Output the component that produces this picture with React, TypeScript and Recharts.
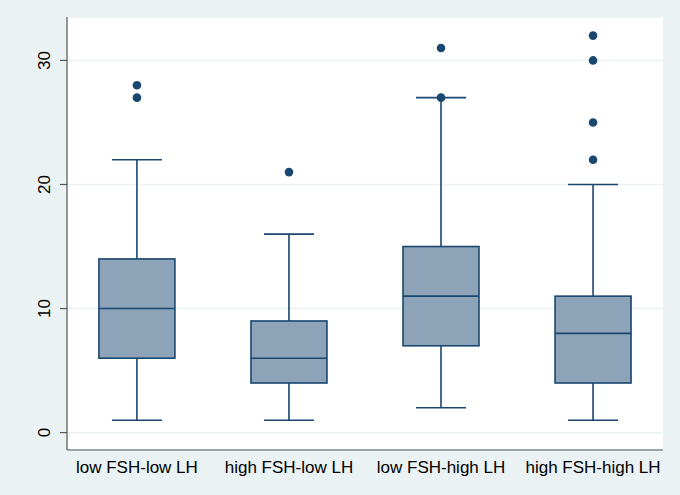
import React from "react";
import { ComposedChart, Bar, Scatter, XAxis, YAxis, CartesianGrid } from "recharts";

const categories = ["low FSH-low LH", "high FSH-low LH", "low FSH-high LH", "high FSH-high LH"];
const mins = [1, 1, 2, 1];
const q1s = [6, 4, 7, 4];
const medians = [10, 6, 11, 8];
const q3s = [14, 9, 15, 11];
const maxs = [22, 16, 27, 20];
const outliers = [
  [27, 28],
  [21],
  [27, 31],
  [22, 25, 30, 32],
];
const yTicks = [0, 10, 20, 30];

const NAVY = "#1A476F";
const FILL = "#8DA3B8";
const BG = "#EAF2F3";
const AXIS = "#555555";

const boxData = categories.map((c, i) => ({
  x: i + 1,
  range: [mins[i], maxs[i]],
  min: mins[i],
  q1: q1s[i],
  med: medians[i],
  q3: q3s[i],
  max: maxs[i],
}));

const outlierData = outliers.flatMap((vals, i) => vals.map((v) => ({ x: i + 1, y: v })));

const BoxShape = (props: any) => {
  const { x, y, width, height, payload } = props;
  const top = Math.min(y, y + height);
  const h = Math.abs(height);
  const { min, q1, med, q3, max } = payload;
  const span = max - min;
  const pos = (v: number) => top + (h * (max - v)) / span;
  const cx = x + width / 2;
  const capHalf = 25;
  const boxHalf = 38;
  const yq1 = pos(q1);
  const yq3 = pos(q3);
  const ymed = pos(med);
  const ymin = pos(min);
  const ymax = pos(max);
  return (
    <g>
      <line x1={cx} x2={cx} y1={ymax} y2={yq3} stroke={NAVY} strokeWidth={1.6} />
      <line x1={cx} x2={cx} y1={yq1} y2={ymin} stroke={NAVY} strokeWidth={1.6} />
      <line x1={cx - capHalf} x2={cx + capHalf} y1={ymax} y2={ymax} stroke={NAVY} strokeWidth={1.6} />
      <line x1={cx - capHalf} x2={cx + capHalf} y1={ymin} y2={ymin} stroke={NAVY} strokeWidth={1.6} />
      <rect x={cx - boxHalf} y={yq3} width={boxHalf * 2} height={yq1 - yq3} fill={FILL} stroke={NAVY} strokeWidth={1.6} />
      <line x1={cx - boxHalf} x2={cx + boxHalf} y1={ymed} y2={ymed} stroke={NAVY} strokeWidth={1.6} />
    </g>
  );
};

const YTick = (props: any) => {
  const { x, y, payload } = props;
  return (
    <text
      x={0}
      y={0}
      transform={`translate(${x - 14}, ${y}) rotate(-90)`}
      textAnchor="middle"
      dominantBaseline="central"
      fill="#000"
      fontSize={17}
      fontFamily="Liberation Sans, Arial, sans-serif"
    >
      {payload.value}
    </text>
  );
};

const XTick = (props: any) => {
  const { x, y, payload } = props;
  return (
    <text
      x={x}
      y={467}
      textAnchor="middle"
      dominantBaseline="central"
      fill="#000"
      fontSize={17}
      fontFamily="Liberation Sans, Arial, sans-serif"
    >
      {categories[payload.value - 1]}
    </text>
  );
};

export default function App() {
  return (
    <div style={{ position: "absolute", left: 0, top: 0, width: 680, height: 495, background: BG }}>
      <ComposedChart
        width={680}
        height={495}
        data={boxData}
        margin={{ top: 17, right: 17, bottom: 0, left: 0 }}
      >
        <CartesianGrid horizontal vertical={false} stroke={BG} strokeWidth={1.5} fill="#ffffff" />
        <XAxis
          dataKey="x"
          type="number"
          domain={[0.54, 4.46]}
          ticks={[1, 2, 3, 4]}
          allowDataOverflow
          height={45}
          tickLine={false}
          axisLine={{ stroke: AXIS, strokeWidth: 1.2 }}
          tick={<XTick />}
          interval={0}
        />
        <YAxis
          type="number"
          domain={[-1.4, 33.5]}
          ticks={yTicks}
          allowDataOverflow
          width={67}
          tickSize={7}
          tickLine={{ stroke: AXIS, strokeWidth: 1.2 }}
          axisLine={{ stroke: AXIS, strokeWidth: 1.2 }}
          tick={<YTick />}
        />
        <Bar dataKey="range" barSize={76} shape={<BoxShape />} isAnimationActive={false} />
        <Scatter data={outlierData} dataKey="y" fill={NAVY} isAnimationActive={false} shape={(p: any) => <circle cx={p.cx} cy={p.cy} r={4.3} fill={NAVY} />} />
      </ComposedChart>
    </div>
  );
}
